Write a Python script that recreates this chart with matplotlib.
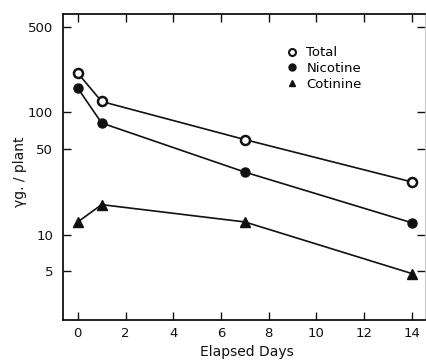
"""Nicotine / cotinine residues per plant over elapsed days (log scale)."""

import matplotlib
matplotlib.use("Agg")
import matplotlib.pyplot as plt
from matplotlib.lines import Line2D
from matplotlib.ticker import FixedLocator, FixedFormatter, NullLocator

INK = "#111111"

days = [0, 1, 7, 14]
total = [210, 123, 60, 27]
nicotine = [158, 82, 32.5, 12.5]
cotinine = [12.7, 17.6, 12.7, 4.8]

series_labels = ["Total", "Nicotine", "Cotinine"]
x_ticks = [0, 2, 4, 6, 8, 10, 12, 14]
y_ticks = [5, 10, 50, 100, 500]
y_tick_labels = ["5", "10", "50", "100", "500"]

plt.rcParams["font.family"] = ["DejaVu Sans"]

fig = plt.figure(figsize=(4.26, 3.61), dpi=100)
fig.patch.set_facecolor("white")
ax = fig.add_axes([63 / 426, 41 / 361, 362 / 426, 306 / 361])

ax.plot(days, total, color=INK, linewidth=1.2, marker="o", markersize=6.5,
        markerfacecolor="white", markeredgecolor=INK, markeredgewidth=1.8)
ax.plot(days, nicotine, color=INK, linewidth=1.2, marker="o", markersize=6.5,
        markerfacecolor=INK, markeredgecolor=INK)
ax.plot(days, cotinine, color=INK, linewidth=1.2, marker="^", markersize=6.5,
        markerfacecolor=INK, markeredgecolor=INK)

ax.set_yscale("log")
ax.set_xlim(-0.62, 14.55)
ax.set_ylim(2, 640)

ax.xaxis.set_major_locator(FixedLocator(x_ticks))
ax.yaxis.set_major_locator(FixedLocator(y_ticks))
ax.yaxis.set_major_formatter(FixedFormatter(y_tick_labels))
ax.yaxis.set_minor_locator(NullLocator())

ax.tick_params(which="major", direction="in", length=6, width=1.0,
               top=True, right=True, colors=INK, labelsize=9.5)
ax.tick_params(axis="y", pad=7)
ax.tick_params(axis="x", pad=5)

for side in ("left", "bottom", "top"):
    ax.spines[side].set_linewidth(1.3)
    ax.spines[side].set_color(INK)
ax.spines["right"].set_linewidth(0.6)
ax.spines["right"].set_color("#bbbbbb")

handles = [
    Line2D([], [], linestyle="none", marker="o", markersize=5,
           markerfacecolor="white", markeredgecolor=INK, markeredgewidth=1.5),
    Line2D([], [], linestyle="none", marker="o", markersize=5,
           markerfacecolor=INK, markeredgecolor=INK),
    Line2D([], [], linestyle="none", marker="^", markersize=5,
           markerfacecolor=INK, markeredgecolor=INK),
]
ax.legend(handles, series_labels, loc="upper left",
          bbox_to_anchor=(0.592, 0.925), frameon=False, fontsize=9.5,
          handlelength=0.8, handletextpad=0.7, labelspacing=0.22,
          borderpad=0.2)

fig.text(20 / 426, 1 - 172 / 361, "γg. / plant", rotation=90,
         ha="center", va="center", fontsize=10, color=INK)
fig.text(247 / 426, 1 - 352 / 361, "Elapsed Days", ha="center",
         va="center", fontsize=10, color=INK)

fig.savefig("out.png", dpi=100, facecolor="white")
